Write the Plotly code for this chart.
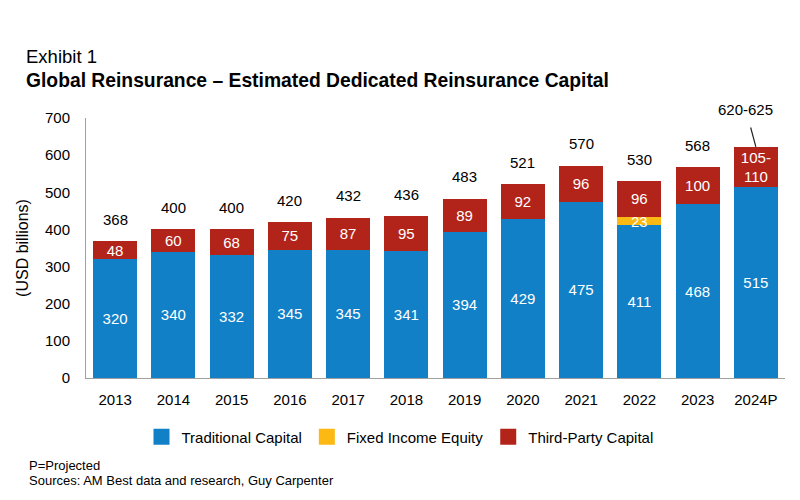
import plotly.graph_objects as go

years = ["2013", "2014", "2015", "2016", "2017", "2018", "2019", "2020", "2021", "2022", "2023", "2024P"]
traditional = [320, 340, 332, 345, 345, 341, 394, 429, 475, 411, 468, 515]
fixed_income = [0, 0, 0, 0, 0, 0, 0, 0, 0, 23, 0, 0]
third_party = [48, 60, 68, 75, 87, 95, 89, 92, 96, 96, 100, 107.5]
third_party_labels = ["48", "60", "68", "75", "87", "95", "89", "92", "96", "96", "100", "105-<br>110"]
total_labels = ["368", "400", "400", "420", "432", "436", "483", "521", "570", "530", "568", "620-625"]

BLUE = "#1180C6"
YELLOW = "#FDB913"
RED = "#B2241A"
FONT = "Liberation Sans, Arial, sans-serif"

W, H = 800, 500
ML, MR, MT, MB = 86, 15, 118, 122
PW, PH = W - ML - MR, H - MT - MB


def px_x(px):
    return (px - ML) / PW


def px_y(py):
    return (H - MB - py) / PH


fig = go.Figure()
fig.add_bar(x=years, y=traditional, name="Traditional Capital", marker_color=BLUE,
            text=[str(v) for v in traditional], showlegend=False)
fig.add_bar(x=years, y=fixed_income, name="Fixed Income Equity", marker_color=YELLOW,
            text=[str(v) if v else "" for v in fixed_income], showlegend=False)
fig.add_bar(x=years, y=third_party, name="Third-Party Capital", marker_color=RED,
            text=third_party_labels, showlegend=False)
fig.update_traces(textposition="inside", insidetextanchor="middle", textangle=0,
                  textfont=dict(color="white", size=15, family=FONT),
                  marker_line_width=0, selector=dict(type="bar"))

# legend entries (larger square swatches)
for name, col in [("Traditional Capital", BLUE), ("Fixed Income Equity", YELLOW), ("Third-Party Capital", RED)]:
    fig.add_scatter(x=[years[0]], y=[None], mode="markers", name=name,
                    marker=dict(symbol="square", size=16, color=col))

totals = [t + f + p for t, f, p in zip(traditional, fixed_income, third_party)]
for i, (tot, lab) in enumerate(zip(totals, total_labels)):
    if i == len(years) - 1:
        fig.add_annotation(x=i, y=tot, text=lab, showarrow=True, arrowhead=0,
                           arrowwidth=1.2, arrowcolor="#222", ax=-10, ay=-37,
                           startstandoff=8, font=dict(size=15, color="black", family=FONT))
    else:
        fig.add_annotation(x=i, y=tot, text=lab, showarrow=False, yanchor="middle",
                           yshift=22, font=dict(size=15, color="black", family=FONT))

# titles
fig.add_annotation(xref="paper", yref="paper", x=px_x(24), y=px_y(57), xanchor="left",
                   yanchor="middle", text="Exhibit 1", showarrow=False,
                   font=dict(size=18.5, color="black", family=FONT))
fig.add_annotation(xref="paper", yref="paper", x=px_x(24), y=px_y(80), xanchor="left",
                   yanchor="middle",
                   text="<b>Global Reinsurance – Estimated Dedicated Reinsurance Capital</b>",
                   showarrow=False, font=dict(size=19.3, color="black", family=FONT))

fig.add_annotation(xref="paper", yref="paper", x=px_x(27), y=px_y(465), xanchor="left",
                   yanchor="middle", text="P=Projected", showarrow=False,
                   font=dict(size=13, color="black", family=FONT))
fig.add_annotation(xref="paper", yref="paper", x=px_x(27), y=px_y(480), xanchor="left",
                   yanchor="middle", text="Sources: AM Best data and research, Guy Carpenter",
                   showarrow=False, font=dict(size=13, color="black", family=FONT))

fig.update_layout(
    width=W, height=H,
    margin=dict(l=ML, r=MR, t=MT, b=MB),
    paper_bgcolor="white", plot_bgcolor="white",
    barmode="stack", bargap=0.245,
    font=dict(family=FONT, size=15, color="black"),
    uniformtext=dict(minsize=15, mode="show"),
    legend=dict(orientation="h", x=0.5, xanchor="center", xref="container",
                y=1-437/500, yanchor="middle", yref="container", traceorder="normal",
                font=dict(size=15, color="black", family=FONT), itemsizing="trace",
                bgcolor="rgba(0,0,0,0)"),
    showlegend=True,
)
fig.update_xaxes(type="category", categoryorder="array", categoryarray=years,
                 range=[-0.5, len(years) - 0.5],
                 showline=True, linecolor="#A0A0A0", linewidth=1, ticks="",
                 tickfont=dict(size=15), ticklabelstandoff=8, showgrid=False)
fig.update_yaxes(range=[0, 700], dtick=100, showline=True, linecolor="#A0A0A0", linewidth=1,
                 showgrid=False, zeroline=False, ticks="", ticklabelstandoff=12,
                 tickfont=dict(size=15),
                 title=dict(text="(USD billions)", font=dict(size=16), standoff=12))

fig.write_html("out.html")
